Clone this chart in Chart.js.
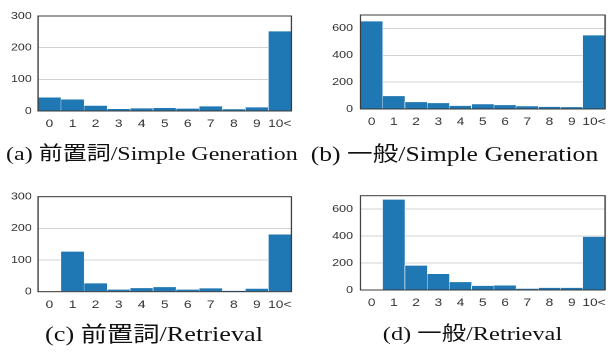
<!DOCTYPE html>
<html><head><meta charset="utf-8">
<script src="https://cdn.jsdelivr.net/npm/chart.js@4"></script>
<style>
html,body{margin:0;padding:0;background:#fff;overflow:hidden;width:614px;height:358px}
#stage{position:absolute;left:0;top:0;width:491.2px;height:358px;transform-origin:0 0;transform:scaleX(1.25);}
.box{position:absolute}
.cap{position:absolute;font-family:"Liberation Serif","Noto Sans CJK JP",serif;font-size:19.5px;color:#111;white-space:nowrap;transform:translate(-50%,-50%);line-height:1}
</style></head>
<body>
<div id="stage">
  <canvas id="ca" class="box" style="left:0;top:0"></canvas>
  <canvas id="cb" class="box" style="left:245.6px;top:0"></canvas>
  <canvas id="cc" class="box" style="left:0;top:180px"></canvas>
  <canvas id="cd" class="box" style="left:245.6px;top:180px"></canvas>
  <div class="cap" style="left:121.6px;top:154px;font-size:19.2px">(a) 前置詞/Simple Generation</div>
  <div class="cap" style="left:363.6px;top:154px;font-size:20.5px">(b) 一般/Simple Generation</div>
  <div class="cap" style="left:123.2px;top:334px;font-size:21px">(c) 前置詞/Retrieval</div>
  <div class="cap" style="left:378px;top:334px">(d) 一般/Retrieval</div>
</div>
<script>
const categories = ['0','1','2','3','4','5','6','7','8','9','10<'];
const valuesA = [43,37,17,7,9,10,8,15,6,12,252];
const valuesB = [654,97,52,45,25,37,30,22,17,15,550];
const valuesC = [0,127,27,7,12,15,7,11,2,10,181];
const valuesD = [0,672,182,120,60,32,35,10,17,17,396];
const yTicksSmall = [0,100,200,300];
const yTicksLarge = [0,200,400,600];
const yMaxSmall = 300;
const yMaxLarge = 700;

const framePlugin = {
  id:'frame',
  afterDatasetsDraw(chart){
    const {ctx, chartArea:a} = chart;
    ctx.save();
    ctx.strokeStyle = '#3a3a3a';
    ctx.lineWidth = 1;
    ctx.strokeRect(a.left, a.top, a.right-a.left, a.bottom-a.top);
    ctx.restore();
  }
};

function makeChart(id, w, h, values, yMax, yTicks, yW, padTop, padRight, xH, yPad){
  const cv = document.getElementById(id);
  cv.style.width = w+'px'; cv.style.height = h+'px';
  cv.width = w; cv.height = h;
  return new Chart(cv, {
    type:'bar',
    data:{labels:categories, datasets:[{data:values, backgroundColor:'#1f77b4', borderColor:'#ffffff', borderWidth:0.5, borderSkipped:'start', barPercentage:1, categoryPercentage:1}]},
    options:{
      responsive:false, animation:false, devicePixelRatio:2,
      layout:{padding:{top:padTop, right:padRight, left:0, bottom:0}},
      plugins:{legend:{display:false}, tooltip:{enabled:false}},
      scales:{
        x:{
          grid:{display:false, drawTicks:false}, border:{display:false},
          ticks:{autoSkip:false, maxRotation:0, padding:6.5, color:'#333', font:{family:'Liberation Sans, Arial, sans-serif', size:11}},
          afterFit(s){ s.height = xH; }
        },
        y:{
          min:0, max:yMax,
          grid:{color:'#d2d2d2', lineWidth:1, drawTicks:false},
          border:{display:false},
          ticks:{padding:yPad, color:'#333', font:{family:'Liberation Sans, Arial, sans-serif', size:10}},
          afterBuildTicks(s){ s.ticks = yTicks.map(v=>({value:v})); },
          afterFit(s){ s.width = yW; }
        }
      }
    },
    plugins:[framePlugin]
  });
}

makeChart('ca', 240, 140, valuesA, yMaxSmall, yTicksSmall, 30.4, 16, 6.4, 29, 5);
makeChart('cb', 245.6, 140, valuesB, yMaxLarge, yTicksLarge, 42.4, 15, 0, 31, 6);
makeChart('cc', 240, 140, valuesC, yMaxSmall, yTicksSmall, 30.4, 16.7, 6.4, 28.3, 5);
makeChart('cd', 245.6, 140, valuesD, yMaxLarge, yTicksLarge, 42.4, 15.7, 0, 30, 6);
</script>
</body></html>
